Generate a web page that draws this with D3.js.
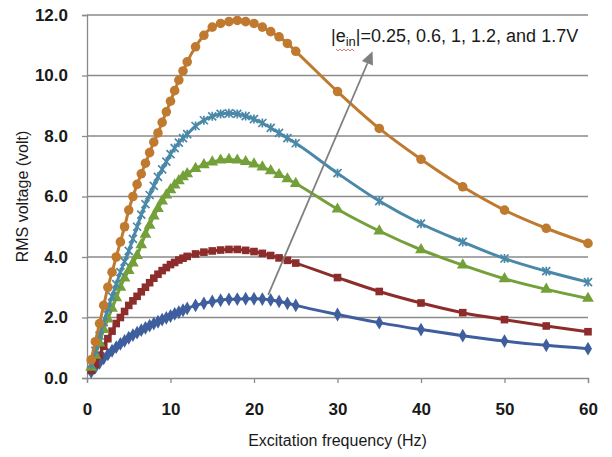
<!DOCTYPE html>
<html lang="en">
<head>
<meta charset="UTF-8">
<title>RMS voltage vs excitation frequency</title>
<script src="https://d3js.org/d3.v7.min.js"></script>
<style>
  body { margin: 0; background: #fff; font-family: "Liberation Sans", Arial, sans-serif; }
  svg { display: block; }
</style>
</head>
<body>
<svg id="chart"></svg>
<script>
const width = 612, height = 457;
const margin = { top: 15, right: 24, bottom: 79, left: 87 };

// excitation frequency (Hz)
const freq = [0.5,1,1.5,2,2.5,3,3.5,4,4.5,5,5.5,6,6.5,7,7.5,8,8.5,9,9.5,10,10.5,11,11.5,12,
  13,14,15,16,17,18,19,20,21,22,23,24,25, 30,35,40,45,50,55,60];

// RMS voltage (volt) for each |e_in|
const v025 = [0.2,0.35,0.5,0.65,0.78,0.9,1.02,1.13,1.23,1.33,1.42,1.5,1.58,1.66,1.73,1.8,1.86,1.93,1.99,2.05,2.12,2.18,2.24,2.3,
  2.4,2.47,2.53,2.57,2.6,2.61,2.62,2.62,2.61,2.58,2.53,2.47,2.4, 2.1,1.83,1.6,1.4,1.22,1.08,0.97];
const v06 = [0.25,0.45,0.75,1.05,1.3,1.55,1.8,2.0,2.2,2.4,2.55,2.7,2.85,3.0,3.15,3.3,3.43,3.55,3.65,3.75,3.82,3.9,3.96,4.02,
  4.1,4.16,4.2,4.23,4.25,4.25,4.22,4.18,4.12,4.05,3.97,3.89,3.8, 3.32,2.86,2.48,2.16,1.93,1.72,1.53];
const v1 = [0.35,0.75,1.15,1.6,1.95,2.3,2.65,3.0,3.3,3.55,3.8,4.05,4.4,4.75,5.05,5.35,5.6,5.85,6.05,6.22,6.38,6.52,6.65,6.75,
  6.92,7.05,7.14,7.2,7.22,7.2,7.15,7.07,6.97,6.85,6.72,6.58,6.43, 5.58,4.86,4.24,3.73,3.28,2.93,2.63];
const v12 = [0.45,0.9,1.4,1.85,2.3,2.7,3.1,3.5,3.85,4.2,4.6,5.0,5.4,5.75,6.05,6.35,6.65,6.9,7.15,7.4,7.6,7.78,7.93,8.06,
  8.33,8.52,8.65,8.73,8.75,8.73,8.66,8.56,8.43,8.27,8.1,7.93,7.76, 6.77,5.85,5.1,4.5,3.95,3.53,3.17];
const v17 = [0.6,1.2,1.8,2.4,3.0,3.5,4.0,4.5,5.0,5.55,6.0,6.4,6.75,7.1,7.45,7.8,8.1,8.45,8.8,9.15,9.5,9.85,10.15,10.45,
  10.95,11.33,11.6,11.72,11.78,11.82,11.78,11.72,11.6,11.45,11.28,11.06,10.8, 9.47,8.25,7.23,6.32,5.55,4.95,4.45];

const xTicks = [0, 10, 20, 30, 40, 50, 60];
const yTicks = [0, 2, 4, 6, 8, 10, 12];

const series = [
  { values: v025, color: "#3e5e9e", marker: "diamond" },
  { values: v06,  color: "#8c2d2b", marker: "square" },
  { values: v1,   color: "#74a03a", marker: "triangle" },
  { values: v12,  color: "#4a88a8", marker: "star" },
  { values: v17,  color: "#bf7a30", marker: "circle" }
];

const svg = d3.select("#chart").attr("width", width).attr("height", height);

const x = d3.scaleLinear().domain([0, 60]).range([margin.left, width - margin.right]);
const y = d3.scaleLinear().domain([0, 12]).range([height - margin.bottom, margin.top]);

// gridlines
svg.append("g")
  .selectAll("line")
  .data(yTicks.filter(d => d > 0))
  .enter().append("line")
  .attr("x1", x(0)).attr("x2", x(60))
  .attr("y1", d => y(d)).attr("y2", d => y(d))
  .attr("stroke", "#8a8a8a").attr("stroke-width", 1.3);

// axes
const xAxis = svg.append("g")
  .attr("transform", `translate(0,${y(0)})`)
  .call(d3.axisBottom(x).tickValues(xTicks).tickSize(5).tickPadding(20).tickFormat(d3.format("d")));
const yAxis = svg.append("g")
  .attr("transform", `translate(${x(0)},0)`)
  .call(d3.axisLeft(y).tickValues(yTicks).tickSize(5).tickPadding(14).tickFormat(d3.format(".1f")));

[xAxis, yAxis].forEach(g => {
  g.select(".domain").attr("stroke", "#8a8a8a").attr("stroke-width", 1.3);
  g.selectAll(".tick line").attr("stroke", "#8a8a8a").attr("stroke-width", 1.3);
  g.selectAll(".tick text")
    .attr("fill", "#1a1a1a")
    .style("font-family", "'Liberation Sans', Arial, sans-serif")
    .style("font-size", "17px")
    .style("font-weight", "bold");
});

// axis titles
svg.append("text")
  .attr("x", (x(0) + x(60)) / 2).attr("y", 446)
  .attr("text-anchor", "middle")
  .style("font-size", "16px").attr("fill", "#1a1a1a")
  .text("Excitation frequency (Hz)");
svg.append("text")
  .attr("transform", `translate(28,${(y(0) + y(12)) / 2}) rotate(-90)`)
  .attr("text-anchor", "middle")
  .style("font-size", "16px").attr("fill", "#1a1a1a")
  .text("RMS voltage (volt)");

// lines + markers
const line = d3.line()
  .x((d, i) => x(freq[i]))
  .y(d => y(d))
  .curve(d3.curveMonotoneX);

const markerPath = {
  diamond: d3.symbol().type(d3.symbolDiamond).size(55)(),
  square: d3.symbol().type(d3.symbolSquare).size(58)(),
  triangle: d3.symbol().type(d3.symbolTriangle).size(60)(),
  circle: d3.symbol().type(d3.symbolCircle).size(72)()
};

series.forEach(s => {
  const g = svg.append("g");
  g.append("path")
    .datum(s.values)
    .attr("d", line)
    .attr("fill", "none")
    .attr("stroke", s.color)
    .attr("stroke-width", 3);

  const pts = g.selectAll("g.pt")
    .data(s.values)
    .enter().append("g")
    .attr("transform", (d, i) => `translate(${x(freq[i])},${y(d)})`);

  if (s.marker === "star") {
    pts.append("path")
      .attr("d", "M-4,-4L4,4M-4,4L4,-4M0,-4.5L0,4.5")
      .attr("stroke", s.color).attr("stroke-width", 1.7).attr("fill", "none");
  } else {
    pts.append("path")
      .attr("d", markerPath[s.marker])
      .attr("fill", s.color);
  }
});

// annotation arrow
const arrowFrom = [21.7, 2.75], arrowTo = [34.2, 10.8];
const ax0 = x(arrowFrom[0]), ay0 = y(arrowFrom[1]);
const ax1 = x(arrowTo[0]), ay1 = y(arrowTo[1]);
const ang = Math.atan2(ay1 - ay0, ax1 - ax0);
const headLen = 13, headW = 6;
const bx = ax1 - headLen * Math.cos(ang), by = ay1 - headLen * Math.sin(ang);
svg.append("line")
  .attr("x1", ax0).attr("y1", ay0).attr("x2", bx).attr("y2", by)
  .attr("stroke", "#7f7f7f").attr("stroke-width", 1.8);
svg.append("path")
  .attr("d", `M${ax1},${ay1}L${bx + headW * Math.sin(ang)},${by - headW * Math.cos(ang)}L${bx - headW * Math.sin(ang)},${by + headW * Math.cos(ang)}Z`)
  .attr("fill", "#7f7f7f");

// annotation text
const label = svg.append("text")
  .attr("x", 331).attr("y", 42)
  .style("font-size", "18px").attr("fill", "#1a1a1a");
label.append("tspan").text("|e");
label.append("tspan").attr("dy", 4).style("font-size", "13px").text("in");
label.append("tspan").attr("dy", -4).text("|=0.25, 0.6, 1, 1.2, and 1.7V");

// spell-check squiggle under "ein"
const sq = d3.range(0, 10).map(i => [336 + i * 2, 50 + (i % 2 ? 1 : -1)]);
svg.append("path")
  .attr("d", d3.line()(sq))
  .attr("fill", "none").attr("stroke", "#e05050").attr("stroke-width", 0.8);
</script>
</body>
</html>
